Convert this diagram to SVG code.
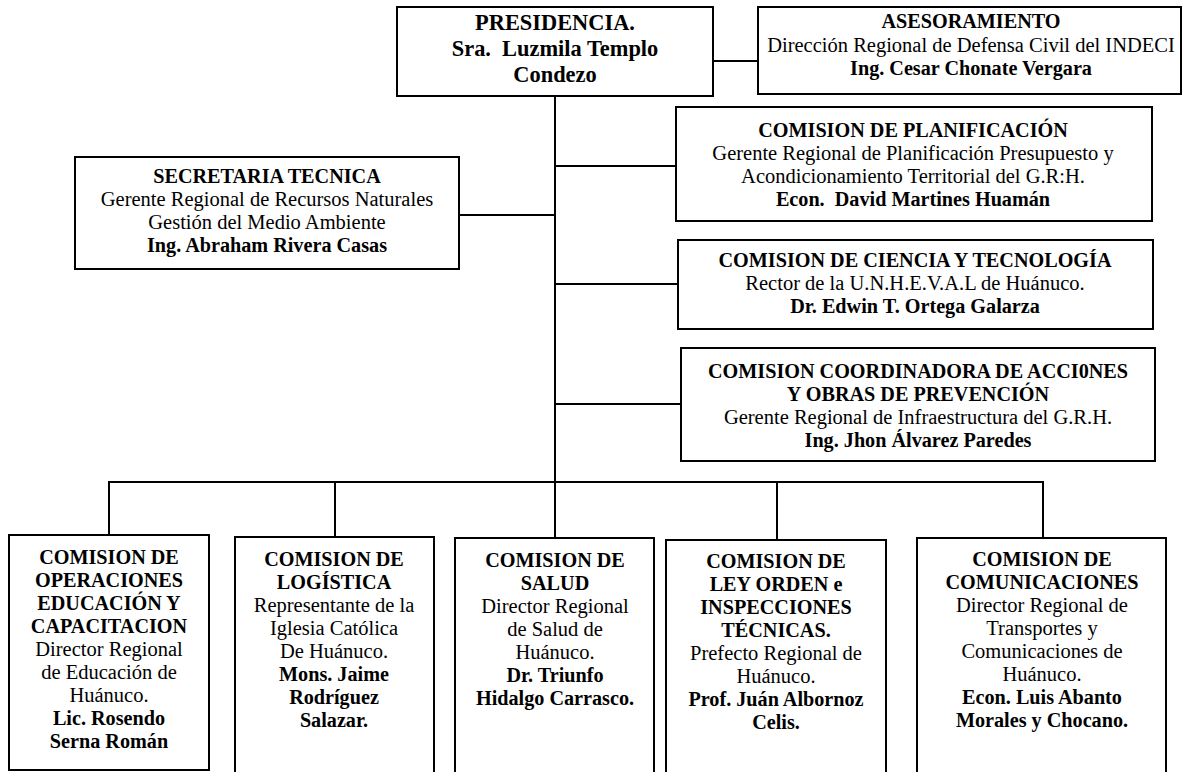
<svg xmlns="http://www.w3.org/2000/svg" width="1183" height="772" viewBox="0 0 1183 772">
<style>
  .box { fill: #ffffff; stroke: #000000; stroke-width: 2; }
  .ln { fill: none; stroke: #000000; stroke-width: 2; }
  text { font-family: "Liberation Serif", "Times New Roman", serif; font-size: 20.5px; fill: #000000; text-anchor: middle; }
  .b { font-weight: bold; font-size: 20.2px; }
  .big { font-size: 22.4px; font-weight: bold; }
</style>
<rect x="0" y="0" width="1183" height="772" fill="#ffffff"/>
<g id="connectors">
  <line class="ln" x1="555" y1="96" x2="555" y2="482"/>
  <line class="ln" x1="713" y1="61" x2="758" y2="61"/>
  <line class="ln" x1="555" y1="166" x2="676" y2="166"/>
  <line class="ln" x1="459" y1="215" x2="555" y2="215"/>
  <line class="ln" x1="555" y1="284" x2="678" y2="284"/>
  <line class="ln" x1="555" y1="404" x2="681" y2="404"/>
  <line class="ln" x1="108" y1="482" x2="1044" y2="482"/>
  <line class="ln" x1="109" y1="481" x2="109" y2="535"/>
  <line class="ln" x1="335" y1="481" x2="335" y2="537"/>
  <line class="ln" x1="555" y1="481" x2="555" y2="538"/>
  <line class="ln" x1="777" y1="481" x2="777" y2="540"/>
  <line class="ln" x1="1043" y1="481" x2="1043" y2="538"/>
</g>
<g id="presidencia">
  <rect class="box" x="397" y="7" width="316" height="89"/>
  <text class="big" x="555" y="30">PRESIDENCIA.</text>
  <text class="big" x="555" y="56" xml:space="preserve">Sra.  Luzmila Templo</text>
  <text class="big" x="555" y="82">Condezo</text>
</g>
<g id="asesoramiento">
  <rect class="box" x="758" y="7" width="423" height="87"/>
  <text class="b" x="971" y="28">ASESORAMIENTO</text>
  <text x="971" y="52">Dirección Regional de Defensa Civil del INDECI</text>
  <text class="b" x="971" y="75">Ing. Cesar Chonate Vergara</text>
</g>
<g id="secretaria">
  <rect class="box" x="75" y="157" width="384" height="112"/>
  <text class="b" x="267" y="183">SECRETARIA TECNICA</text>
  <text x="267" y="206">Gerente Regional de Recursos Naturales</text>
  <text x="267" y="229">Gestión del Medio Ambiente</text>
  <text class="b" x="267" y="252">Ing. Abraham Rivera Casas</text>
</g>
<g id="planificacion">
  <rect class="box" x="676" y="107" width="476" height="114"/>
  <text class="b" x="913" y="137">COMISION DE PLANIFICACIÓN</text>
  <text x="913" y="160">Gerente Regional de Planificación Presupuesto y</text>
  <text x="913" y="183">Acondicionamiento Territorial del G.R:H.</text>
  <text class="b" x="913" y="206" xml:space="preserve">Econ.  David Martines Huamán</text>
</g>
<g id="ciencia">
  <rect class="box" x="678" y="240" width="475" height="89"/>
  <text class="b" x="915" y="267">COMISION DE CIENCIA Y TECNOLOGÍA</text>
  <text x="915" y="290">Rector de la U.N.H.E.V.A.L de Huánuco.</text>
  <text class="b" x="915" y="313">Dr. Edwin T. Ortega Galarza</text>
</g>
<g id="coordinadora">
  <rect class="box" x="681" y="348" width="474" height="113"/>
  <text class="b" x="918" y="378">COMISION COORDINADORA DE ACCI0NES</text>
  <text class="b" x="918" y="401">Y OBRAS DE PREVENCIÓN</text>
  <text x="918" y="424">Gerente Regional de Infraestructura del G.R.H.</text>
  <text class="b" x="918" y="447">Ing. Jhon Álvarez Paredes</text>
</g>
<g id="operaciones">
  <rect class="box" x="9" y="535" width="200" height="235"/>
  <text class="b" x="109" y="564">COMISION DE</text>
  <text class="b" x="109" y="587">OPERACIONES</text>
  <text class="b" x="109" y="610">EDUCACIÓN Y</text>
  <text class="b" x="109" y="633">CAPACITACION</text>
  <text x="109" y="656">Director Regional</text>
  <text x="109" y="679">de Educación de</text>
  <text x="109" y="702">Huánuco.</text>
  <text class="b" x="109" y="725">Lic. Rosendo</text>
  <text class="b" x="109" y="748">Serna Román</text>
</g>
<g id="logistica">
  <rect class="box" x="235" y="537" width="199" height="250"/>
  <text class="b" x="334" y="566">COMISION DE</text>
  <text class="b" x="334" y="589">LOGÍSTICA</text>
  <text x="334" y="612">Representante de la</text>
  <text x="334" y="635">Iglesia Católica</text>
  <text x="334" y="658">De Huánuco.</text>
  <text class="b" x="334" y="681">Mons. Jaime</text>
  <text class="b" x="334" y="704">Rodríguez</text>
  <text class="b" x="334" y="727">Salazar.</text>
</g>
<g id="salud">
  <rect class="box" x="455" y="538" width="199" height="250"/>
  <text class="b" x="555" y="567">COMISION DE</text>
  <text class="b" x="555" y="590">SALUD</text>
  <text x="555" y="613">Director Regional</text>
  <text x="555" y="636">de Salud de</text>
  <text x="555" y="659">Huánuco.</text>
  <text class="b" x="555" y="682">Dr. Triunfo</text>
  <text class="b" x="555" y="705">Hidalgo Carrasco.</text>
</g>
<g id="ley-orden">
  <rect class="box" x="666" y="540" width="220" height="250"/>
  <text class="b" x="776" y="568">COMISION DE</text>
  <text class="b" x="776" y="591">LEY ORDEN e</text>
  <text class="b" x="776" y="614">INSPECCIONES</text>
  <text class="b" x="776" y="637">TÉCNICAS.</text>
  <text x="776" y="660">Prefecto Regional de</text>
  <text x="776" y="683">Huánuco.</text>
  <text class="b" x="776" y="706">Prof. Juán Albornoz</text>
  <text class="b" x="776" y="729">Celis.</text>
</g>
<g id="comunicaciones">
  <rect class="box" x="917" y="538" width="249" height="250"/>
  <text class="b" x="1042" y="566">COMISION DE</text>
  <text class="b" x="1042" y="589">COMUNICACIONES</text>
  <text x="1042" y="612">Director Regional de</text>
  <text x="1042" y="635">Transportes y</text>
  <text x="1042" y="658">Comunicaciones de</text>
  <text x="1042" y="681">Huánuco.</text>
  <text class="b" x="1042" y="704">Econ. Luis Abanto</text>
  <text class="b" x="1042" y="727">Morales y Chocano.</text>
</g>
</svg>
